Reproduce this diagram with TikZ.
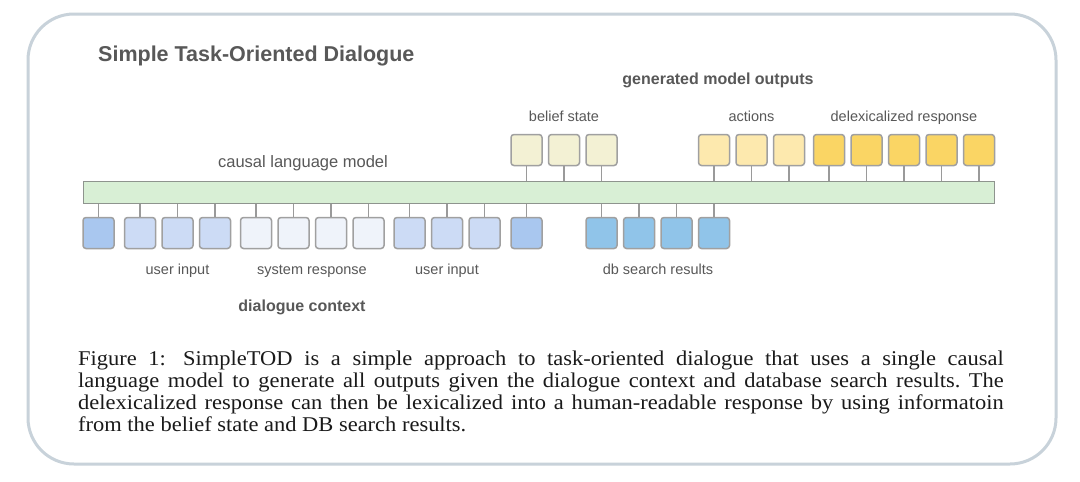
\documentclass[tikz,border=0pt]{standalone}
\usepackage{fontspec}
\setmainfont{Liberation Serif}
\setsansfont{Liberation Sans}
\usepackage{graphicx}
\definecolor{framec}{HTML}{C8D2DA}
\definecolor{labelc}{HTML}{585858}
\definecolor{captc}{HTML}{1A1A1A}
\definecolor{boxline}{HTML}{A0A0A0}
\definecolor{linkc}{HTML}{9A9A9A}
\definecolor{barfill}{HTML}{D8EFD5}
\definecolor{barline}{HTML}{8E948E}
\definecolor{sepc}{HTML}{A9C7EF}
\definecolor{userc}{HTML}{CCDBF5}
\definecolor{sysc}{HTML}{EFF3FA}
\definecolor{dbc}{HTML}{90C4E9}
\definecolor{beliefc}{HTML}{F3F1D4}
\definecolor{actc}{HTML}{FDE9AE}
\definecolor{delexc}{HTML}{FAD564}
\begin{document}
\begin{tikzpicture}[x=1pt,y=-1pt,
  tok/.style={draw=boxline, line width=1.5pt, rounded corners=3pt, minimum width=31pt, minimum height=31pt, inner sep=0pt},
  link/.style={draw=linkc, line width=1.4pt},
  lbl/.style={font=\sffamily\fontsize{14.5}{16}\selectfont, text=labelc, anchor=base, inner sep=0pt},
  midlbl/.style={font=\sffamily\fontsize{16.5}{18}\selectfont, text=labelc, anchor=base, inner sep=0pt},
  boldlbl/.style={font=\sffamily\bfseries\fontsize{16}{18}\selectfont, text=labelc, anchor=base, inner sep=0pt}]
\useasboundingbox (0,0) rectangle (1080,482);
\fill[white] (0,0) rectangle (1080,482);
\draw[framec, line width=3pt, rounded corners=46pt] (28,14) rectangle (1056,464);

% title
\node[font=\sffamily\bfseries\fontsize{21.5}{24}\selectfont, text=labelc, anchor=base west, inner sep=0pt] (title) at (98,61) {Simple Task-Oriented Dialogue};

% causal language model bar
\node[draw=barline, fill=barfill, line width=1.4pt, minimum width=911pt, minimum height=22pt, inner sep=0pt] (clm) at (539,192.75) {};
\node[midlbl] (clmlbl) at (303,167) {causal language model};

% lower tokens (dialogue context)
\foreach \n/\x/\c in {l1/98.5/sepc, l2/140/userc, l3/177.5/userc, l4/215/userc,
  l5/256/sysc, l6/293.5/sysc, l7/331/sysc, l8/368.5/sysc,
  l9/409.5/userc, l10/447/userc, l11/484.5/userc, l12/526.5/sepc,
  d1/601.5/dbc, d2/639/dbc, d3/676.5/dbc, d4/714/dbc}{
  \node[tok, fill=\c] (\n) at (\x,233) {};
  \draw[link] (\n.north) -- (\n.north |- clm.south);
}
% upper tokens (generated outputs)
\foreach \n/\x/\c in {b1/526.5/beliefc, b2/564/beliefc, b3/601.5/beliefc,
  a1/714/actc, a2/751.5/actc, a3/789/actc,
  r1/829/delexc, r2/866.5/delexc, r3/904/delexc, r4/941.5/delexc, r5/979/delexc}{
  \node[tok, fill=\c] (\n) at (\x,150) {};
  \draw[link] (\n.south) -- (\n.south |- clm.north);
}

% labels
\node[lbl] (ui1) at (177.5,274) {user input};
\node[lbl] (sr) at (312,274) {system response};
\node[lbl] (ui2) at (447,274) {user input};
\node[lbl] (db) at (658,274) {db search results};
\node[boldlbl] (dc) at (302,311) {dialogue context};
\node[lbl] (bs) at (564,121) {belief state};
\node[lbl] (ac) at (751.5,121) {actions};
\node[lbl] (dr) at (904,121) {delexicalized response};
\node[boldlbl] (gmo) at (718,84) {generated model outputs};

% caption
\node[anchor=north west, inner sep=0pt, text=captc] (cap) at (78,351) {\scalebox{1.07}[1]{\parbox[t]{865pt}{\fontsize{21}{22}\selectfont\frenchspacing\hyphenpenalty=10000\parindent=0pt
Figure 1:\hspace{0.25em} SimpleTOD is a simple approach to task-oriented dialogue that uses a single causal\linebreak
language model to generate all outputs given the dialogue context and database search results. The\linebreak
delexicalized response can then be lexicalized into a human-readable response by using informatoin\linebreak
from the belief state and DB search results.}}};
\end{tikzpicture}
\end{document}
